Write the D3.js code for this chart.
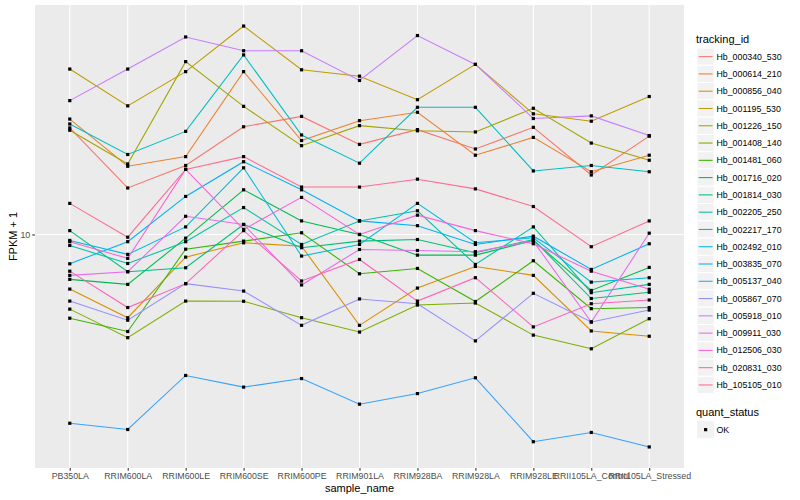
<!DOCTYPE html>
<html>
<head>
<meta charset="utf-8">
<script src="https://cdn.jsdelivr.net/npm/d3@7"></script>
<style>
  body { margin: 0; background: #fff; }
  text { font-family: "Liberation Sans", Arial, Helvetica, sans-serif; }
</style>
</head>
<body>
<div id="chart"></div>
<script>
// Samples on the x axis
var samples = ["PB350LA", "RRIM600LA", "RRIM600LE", "RRIM600SE", "RRIM600PE", "RRIM901LA",
  "RRIM928BA", "RRIM928LA", "RRIM928LE", "RRII105LA_Control", "RRII105LA_Stressed"];

// tracking ids (legend order)
var trackingIds = ["Hb_000340_530", "Hb_000614_210", "Hb_000856_040", "Hb_001195_530", "Hb_001226_150",
  "Hb_001408_140", "Hb_001481_060", "Hb_001716_020", "Hb_001814_030", "Hb_002205_250",
  "Hb_002217_170", "Hb_002492_010", "Hb_003835_070", "Hb_005137_040", "Hb_005867_070",
  "Hb_005918_010", "Hb_009911_030", "Hb_012506_030", "Hb_020831_030", "Hb_105105_010"];

// FPKM + 1 per sample, one array per gene
var hb000340 = [22.7, 14.3, 17.0, 22.9, 24.8, 20.0, 22.4, 19.3, 22.8, 15.8, 21.3];
var hb000614 = [24.3, 16.9, 18.2, 35.0, 20.6, 24.0, 25.6, 18.4, 21.1, 16.2, 18.4];
var hb000856 = [6.57, 5.27, 8.40, 9.38, 9.14, 4.97, 6.62, 7.82, 7.30, 4.76, 4.57];
var hb001195 = [35.7, 26.9, 35.0, 49.7, 35.5, 33.8, 28.2, 37.0, 25.3, 23.9, 28.9];
var hb001226 = [22.3, 17.2, 37.8, 26.8, 19.8, 23.1, 22.2, 22.0, 26.4, 20.2, 17.7];
var hb001408 = [5.63, 4.52, 5.99, 5.98, 5.27, 4.72, 5.81, 5.90, 4.61, 4.15, 5.23];
var hb001481 = [5.25, 4.74, 8.93, 9.50, 10.13, 7.39, 7.70, 5.97, 8.17, 5.65, 5.70];
var hb001716 = [7.08, 6.81, 9.72, 14.1, 11.1, 10.0, 8.53, 8.53, 9.55, 6.50, 7.76];
var hb001814 = [10.3, 7.51, 7.74, 10.8, 9.03, 9.50, 9.62, 8.69, 9.62, 6.11, 6.41];
var hb002205 = [9.19, 8.00, 9.46, 12.3, 9.26, 11.1, 12.0, 7.94, 10.6, 6.39, 6.81];
var hb002217 = [23.4, 18.5, 22.1, 39.8, 21.5, 17.3, 26.6, 26.6, 16.3, 17.0, 16.2];
var hb002492 = [9.55, 8.58, 10.6, 16.7, 8.47, 9.26, 12.7, 9.38, 9.75, 6.93, 7.17];
var hb003835 = [7.98, 9.46, 13.4, 17.5, 14.1, 11.1, 10.7, 9.26, 9.87, 7.64, 9.31];
var hb005137 = [2.34, 2.23, 3.38, 3.09, 3.30, 2.71, 2.94, 3.32, 2.03, 2.18, 1.95];
var hb005867 = [5.99, 5.17, 6.85, 6.47, 4.97, 6.09, 5.87, 4.41, 6.36, 5.10, 5.59];
var hb005918 = [28.0, 35.7, 45.7, 41.1, 41.1, 32.7, 46.2, 37.0, 24.4, 24.9, 21.4];
var hb009911 = [7.30, 7.51, 11.5, 10.8, 6.78, 8.91, 8.84, 8.76, 9.50, 5.10, 10.1];
var hb012506 = [9.46, 8.32, 16.5, 10.4, 13.3, 10.0, 11.6, 10.3, 9.31, 7.54, 6.56];
var hb020831 = [7.54, 5.70, 6.85, 10.3, 6.99, 8.25, 5.99, 7.17, 4.91, 5.87, 6.04];
var hb105105 = [12.7, 9.79, 16.5, 18.2, 14.4, 14.4, 15.3, 14.2, 12.4, 9.10, 11.1];

var seriesValues = [hb000340, hb000614, hb000856, hb001195, hb001226, hb001408, hb001481,
  hb001716, hb001814, hb002205, hb002217, hb002492, hb003835, hb005137, hb005867,
  hb005918, hb009911, hb012506, hb020831, hb105105];

var yTicks = [10];

// ggplot default hue palette for 20 levels
var palette = ["#F8766D", "#EA8331", "#D89000", "#C09B00", "#A3A500", "#7CAE00", "#39B600",
  "#00BB4E", "#00BF7D", "#00C1A3", "#00BFC4", "#00BAE0", "#00B0F6", "#35A2FF", "#9590FF",
  "#C77CFF", "#E76BF3", "#FA62DB", "#FF62BC", "#FF6C91"];

var svgWidth = 800;
var svgHeight = 500;
var panel = { left: 35, right: 684, top: 5, bottom: 468 };

var svg = d3.select("#chart")
  .append("svg")
  .attr("width", svgWidth)
  .attr("height", svgHeight);

svg.append("rect")
  .attr("width", svgWidth)
  .attr("height", svgHeight)
  .attr("fill", "#fff");

// Build long table
var series = trackingIds.map(function(id, i) {
  return {
    id: id,
    color: palette[i],
    values: samples.map(function(s, j) { return { sample: s, value: seriesValues[i][j] }; })
  };
});
var allValues = d3.merge(seriesValues);

// Scales
var xScale = d3.scalePoint()
  .domain(samples)
  .range([panel.left, panel.right])
  .padding(0.6);

var logExtent = d3.extent(allValues).map(Math.log10);
var pad = (logExtent[1] - logExtent[0]) * 0.05;
var yScale = d3.scaleLog()
  .domain([Math.pow(10, logExtent[0] - pad), Math.pow(10, logExtent[1] + pad)])
  .range([panel.bottom, panel.top]);

// Panel background and grid
svg.append("rect")
  .attr("x", panel.left)
  .attr("y", panel.top)
  .attr("width", panel.right - panel.left)
  .attr("height", panel.bottom - panel.top)
  .attr("fill", "#EBEBEB");

svg.append("g").selectAll("line")
  .data(samples)
  .enter()
  .append("line")
  .attr("x1", d => xScale(d))
  .attr("x2", d => xScale(d))
  .attr("y1", panel.top)
  .attr("y2", panel.bottom)
  .attr("stroke", "#fff")
  .attr("stroke-width", 1.07);

svg.append("g").selectAll("line")
  .data(yTicks)
  .enter()
  .append("line")
  .attr("x1", panel.left)
  .attr("x2", panel.right)
  .attr("y1", d => yScale(d))
  .attr("y2", d => yScale(d))
  .attr("stroke", "#fff")
  .attr("stroke-width", 1.07);

// Lines
var line = d3.line()
  .x(d => xScale(d.sample))
  .y(d => yScale(d.value));

svg.append("g").selectAll("path")
  .data(series)
  .enter()
  .append("path")
  .attr("d", d => line(d.values))
  .attr("fill", "none")
  .attr("stroke", d => d.color)
  .attr("stroke-width", 1.07);

// Points (square, black)
var pointsGroup = svg.append("g");
series.forEach(function(s) {
  pointsGroup.selectAll(null)
    .data(s.values)
    .enter()
    .append("rect")
    .attr("x", d => xScale(d.sample) - 1.6)
    .attr("y", d => yScale(d.value) - 1.6)
    .attr("width", 3.2)
    .attr("height", 3.2)
    .attr("fill", "#000");
});

// Axes
var bottomAxis = d3.axisBottom(xScale).tickSize(2.75).tickPadding(2.5);
var leftAxis = d3.axisLeft(yScale).tickValues(yTicks).tickFormat(d3.format("d")).tickSize(2.75).tickPadding(2);

var xAxis = svg.append("g")
  .attr("transform", `translate(0, ${panel.bottom})`)
  .call(bottomAxis);
var yAxis = svg.append("g")
  .attr("transform", `translate(${panel.left}, 0)`)
  .call(leftAxis);

[xAxis, yAxis].forEach(function(ax) {
  ax.select(".domain").remove();
  ax.selectAll(".tick line").attr("stroke", "#333").attr("stroke-width", 1.07);
  ax.selectAll(".tick text")
    .attr("fill", "#4D4D4D")
    .style("font-size", "8.8px")
    .style("font-family", "'Liberation Sans', Arial, sans-serif");
});

// Axis titles
svg.append("text")
  .attr("x", (panel.left + panel.right) / 2)
  .attr("y", 492)
  .attr("text-anchor", "middle")
  .style("font-size", "11px")
  .attr("fill", "#000")
  .text("sample_name");

svg.append("text")
  .attr("transform", `translate(17, ${(panel.top + panel.bottom) / 2}) rotate(-90)`)
  .attr("text-anchor", "middle")
  .style("font-size", "11px")
  .attr("fill", "#000")
  .text("FPKM + 1");

// Legend: tracking_id
var legend = svg.append("g").attr("transform", "translate(697, 0)");
var keySize = 17.28;
var firstKey = 48;

legend.append("text")
  .attr("x", -1)
  .attr("y", 43)
  .style("font-size", "11px")
  .text("tracking_id");

var keys = legend.selectAll(".key")
  .data(series)
  .enter()
  .append("g")
  .attr("class", "key")
  .attr("transform", (d, i) => `translate(0, ${firstKey + i * keySize})`);

keys.append("rect")
  .attr("width", keySize)
  .attr("height", keySize)
  .attr("fill", "#F2F2F2")
  .attr("stroke", "#fff")
  .attr("stroke-width", 1);

keys.append("line")
  .attr("x1", 1.7)
  .attr("x2", keySize - 1.7)
  .attr("y1", keySize / 2)
  .attr("y2", keySize / 2)
  .attr("stroke", d => d.color)
  .attr("stroke-width", 1.07);

keys.append("text")
  .attr("x", keySize + 2.2)
  .attr("y", keySize / 2 + 3.1)
  .style("font-size", "8.8px")
  .text(d => d.id);

// Legend: quant_status
legend.append("text")
  .attr("x", -1)
  .attr("y", 416)
  .style("font-size", "11px")
  .text("quant_status");

var okKey = legend.append("g").attr("transform", "translate(0, 421)");
okKey.append("rect")
  .attr("width", keySize)
  .attr("height", keySize)
  .attr("fill", "#F2F2F2");
okKey.append("rect")
  .attr("x", keySize / 2 - 1.6)
  .attr("y", keySize / 2 - 1.6)
  .attr("width", 3.2)
  .attr("height", 3.2)
  .attr("fill", "#000");
okKey.append("text")
  .attr("x", keySize + 2.2)
  .attr("y", keySize / 2 + 3.1)
  .style("font-size", "8.8px")
  .text("OK");
</script>
</body>
</html>
